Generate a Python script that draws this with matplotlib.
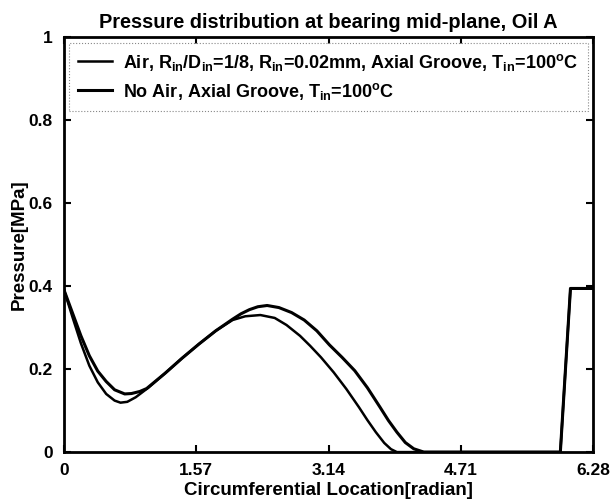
import matplotlib
matplotlib.use('Agg')
import matplotlib.pyplot as plt

# Curva com ar (minimo mais baixo, cavita antes)
t_air = [0, 0.1, 0.2, 0.3, 0.4, 0.5, 0.6, 0.67, 0.75, 0.85, 1.0, 1.2, 1.4, 1.6, 1.8, 2.0,
         2.15, 2.33, 2.5, 2.64, 2.8, 2.92, 3.05, 3.2, 3.35, 3.5, 3.6, 3.7, 3.8, 3.88, 3.95,
         5.89, 6.01, 6.28]
p_air = [0.39, 0.325, 0.262, 0.208, 0.168, 0.140, 0.124, 0.119, 0.121, 0.132, 0.155, 0.19, 0.226,
         0.260, 0.292, 0.318, 0.327, 0.330, 0.323, 0.306, 0.280, 0.256, 0.228, 0.192, 0.152, 0.108,
         0.077, 0.048, 0.022, 0.007, 0.0, 0.0, 0.394, 0.394]

# Curva sem ar
t_noair = [0, 0.1, 0.2, 0.3, 0.4, 0.5, 0.6, 0.72, 0.8, 0.9, 0.98, 1.2, 1.4, 1.6, 1.8, 2.0,
           2.1, 2.2, 2.3, 2.41, 2.55, 2.7, 2.85, 3.0, 3.15, 3.3, 3.45, 3.6, 3.75, 3.85, 3.95,
           4.05, 4.15, 4.27, 5.89, 6.01, 6.28]
p_noair = [0.39, 0.335, 0.28, 0.232, 0.195, 0.170, 0.150, 0.140, 0.141, 0.146, 0.153, 0.19, 0.226,
           0.260, 0.292, 0.320, 0.333, 0.343, 0.350, 0.353, 0.348, 0.336, 0.318, 0.292, 0.258,
           0.228, 0.196, 0.155, 0.108, 0.076, 0.048, 0.023, 0.008, 0.0, 0.0, 0.394, 0.394]

xticks = [0, 1.57, 3.14, 4.71, 6.28]
xtick_labels = ['0', '1.57', '3.14', '4.71', '6.28']
yticks = [0, 0.2, 0.4, 0.6, 0.8, 1]
ytick_labels = ['0', '0.2', '0.4', '0.6', '0.8', '1']

lbl_air = r'Air, R$_{\mathrm{in}}$/D$_{\mathrm{in}}$=1/8, R$_{\mathrm{in}}$=0.02mm, Axial Groove, T$_{\mathrm{in}}$=100$^{\mathrm{o}}$C'
lbl_noair = r'No Air, Axial Groove, T$_{\mathrm{in}}$=100$^{\mathrm{o}}$C'

plt.rcParams['font.family'] = ['Liberation Sans', 'DejaVu Sans']
plt.rcParams['font.weight'] = 'bold'
plt.rcParams['mathtext.fontset'] = 'custom'
plt.rcParams['mathtext.rm'] = 'Liberation Sans:bold'
plt.rcParams['mathtext.it'] = 'Liberation Sans:bold'
plt.rcParams['mathtext.bf'] = 'Liberation Sans:bold'

fig = plt.figure(figsize=(6.16, 5.04), dpi=100)
ax = fig.add_axes([0.104, 0.103, 0.859, 0.824])

ax.plot(t_air, p_air, color='black', linewidth=1.8, label=lbl_air)
ax.plot(t_noair, p_noair, color='black', linewidth=2.2, label=lbl_noair)

ax.set_xlim(0, 6.28)
ax.set_ylim(0, 1)
ax.set_xticks(xticks)
ax.set_xticklabels(xtick_labels)
ax.set_yticks(yticks)
ax.set_yticklabels(ytick_labels)
ax.tick_params(direction='in', length=5, width=1.5, top=True, right=True, labelsize=12.5, pad=8)
for s in ax.spines.values():
    s.set_linewidth(2)

ax.set_title('Pressure distribution at bearing mid-plane, Oil A', fontsize=14.4, fontweight='bold', pad=6)
ax.set_xlabel('Circumferential Location[radian]', fontsize=13.5, fontweight='bold', labelpad=3)
ax.set_ylabel('Pressure[MPa]', fontsize=13.5, fontweight='bold', labelpad=1)

leg = ax.legend(loc='upper left', bbox_to_anchor=(0.0095, 0.819, 0.98, 0.167), mode='expand',
                fancybox=False, fontsize=13, handlelength=1.9, handletextpad=0.6, borderaxespad=0,
                labelspacing=0.45, borderpad=0.5, framealpha=1)
leg.get_frame().set_edgecolor('#888888')
leg.get_frame().set_linestyle(':')
leg.get_frame().set_linewidth(0.8)

plt.savefig('out.png', dpi=100)
